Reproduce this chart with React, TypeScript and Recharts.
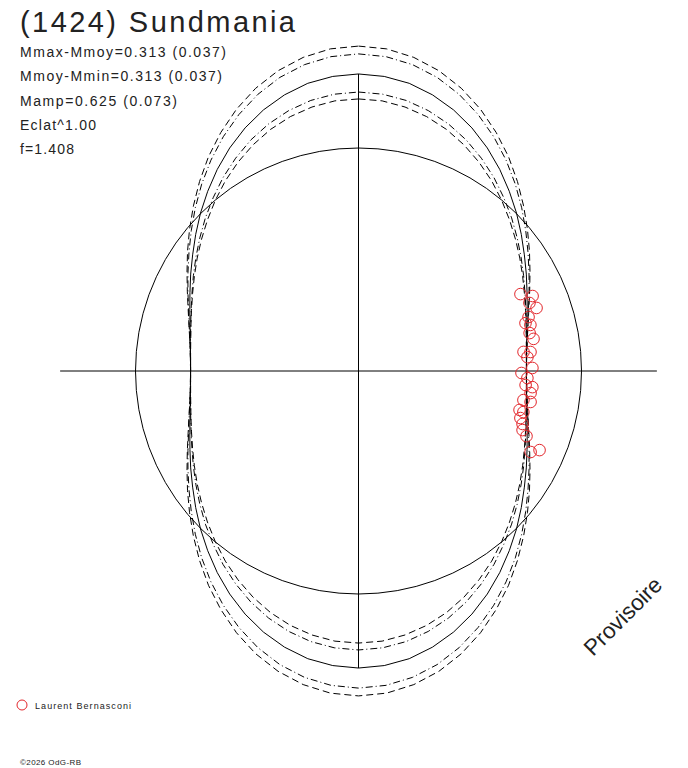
import React from "react";
import { ScatterChart, Scatter, XAxis, YAxis, ReferenceLine } from "recharts";

// rotation phase measured clockwise from the top, one quarter turn
// (the model curves are symmetric, the other quarters are mirrored)
const quarterPhase = [0, 5, 10, 15, 20, 25, 30, 35, 40, 45, 50, 55, 60, 65, 70, 75, 80, 85, 90];

// relative flux (mean = 1)
const fitRadius = [1.332, 1.326, 1.31, 1.282, 1.246, 1.203, 1.155, 1.104, 1.052, 1.002, 0.953, 0.908, 0.869, 0.834, 0.805, 0.782, 0.766, 0.756, 0.753];
const outerDashRadius = [1.457, 1.45, 1.428, 1.394, 1.349, 1.295, 1.235, 1.173, 1.109, 1.047, 0.989, 0.936, 0.888, 0.847, 0.813, 0.787, 0.768, 0.757, 0.753];
const outerDotRadius = [1.422, 1.415, 1.395, 1.363, 1.32, 1.269, 1.213, 1.154, 1.094, 1.035, 0.979, 0.928, 0.883, 0.844, 0.811, 0.786, 0.768, 0.757, 0.753];
const innerDotRadius = [1.251, 1.246, 1.232, 1.209, 1.179, 1.143, 1.102, 1.059, 1.014, 0.971, 0.929, 0.89, 0.855, 0.824, 0.799, 0.779, 0.765, 0.756, 0.753];
const innerDashRadius = [1.22, 1.216, 1.202, 1.181, 1.153, 1.119, 1.081, 1.041, 0.999, 0.958, 0.919, 0.883, 0.85, 0.821, 0.797, 0.778, 0.764, 0.756, 0.753];
const meanRadius = 1;

// observations (Laurent Bernasconi)
const obsPhase = [64.6, 66.7, 68.3, 70.5, 72.4, 74.0, 75.0, 77.5, 79.6, 83.4, 83.7, 85.3, 89.0, 90.7, 92.4, 94.8, 95.3, 97.3, 100.0, 100.2, 103.6, 104.0, 106.2, 107.9, 109.8, 111.2, 115.2, 113.6];
const obsRadius = [0.804, 0.85, 0.825, 0.847, 0.8, 0.779, 0.798, 0.786, 0.798, 0.745, 0.776, 0.76, 0.78, 0.731, 0.758, 0.752, 0.783, 0.778, 0.751, 0.784, 0.743, 0.762, 0.756, 0.773, 0.782, 0.808, 0.853, 0.886];

const infoLines = ["Mmax-Mmoy=0.313 (0.037)", "Mmoy-Mmin=0.313 (0.037)", "Mamp=0.625 (0.073)", "Eclat^1.00", "f=1.408"];
const infoWidths = [206, 202, 157, 76, 54];

const axisReachX = 1.338;
const axisReachY = 1.332;

const W = 688;
const H = 768;
const unit = 223; // px per flux unit
const cx = 358.5;
const cy = 371;

const halfPhase = [...quarterPhase, ...quarterPhase.slice(0, -1).reverse().map((p) => 180 - p)];
const fullPhase = [...halfPhase, ...halfPhase.slice(1).map((p) => p + 180)];
const fullRadius = (q: number[]) => {
  const h = [...q, ...q.slice(0, -1).reverse()];
  return [...h, ...h.slice(1)];
};

const toXY = (phase: number, r: number) => {
  const a = (phase * Math.PI) / 180;
  return { x: r * Math.sin(a), y: r * Math.cos(a) };
};
const curve = (q: number[]) => {
  const rs = fullRadius(q);
  return fullPhase.map((p, i) => toXY(p, rs[i]));
};

const meanCircle = fullPhase.map((p) => toXY(p, meanRadius));
const fitCurve = curve(fitRadius);
const outerDash = curve(outerDashRadius);
const outerDot = curve(outerDotRadius);
const innerDot = curve(innerDotRadius);
const innerDash = curve(innerDashRadius);
const observations = obsPhase.map((p, i) => toXY(p, obsRadius[i]));

const noDot = () => <g />;
const ObsMark = (props: any) => (
  <circle cx={props.cx} cy={props.cy} r={5.8} fill="none" stroke="#e3262b" strokeWidth={1} />
);

const font = "'Liberation Sans', Arial, sans-serif";
const DASH = "7 4";
const DASHDOT = "7 3 1 3";

export default function App() {
  return (
    <div style={{ position: "absolute", left: 0, top: 0, width: W, height: H, background: "#fff" }}>
      <ScatterChart width={W} height={H} margin={{ top: 0, right: 0, bottom: 0, left: 0 }}>
        <XAxis type="number" dataKey="x" hide allowDataOverflow domain={[-cx / unit, (W - cx) / unit]} />
        <YAxis type="number" dataKey="y" hide allowDataOverflow domain={[-(H - cy) / unit, cy / unit]} />
        <Scatter data={meanCircle} shape={noDot} line={{ stroke: "#000", strokeWidth: 1 }} fill="#000" legendType="none" isAnimationActive={false} />
        <ReferenceLine segment={[{ x: -axisReachX, y: 0 }, { x: axisReachX, y: 0 }]} stroke="#000" strokeWidth={1} />
        <ReferenceLine segment={[{ x: 0, y: -axisReachY }, { x: 0, y: axisReachY }]} stroke="#000" strokeWidth={1} />
        <Scatter data={outerDash} shape={noDot} line={{ stroke: "#000", strokeWidth: 1, strokeDasharray: DASH }} fill="#000" isAnimationActive={false} />
        <Scatter data={outerDot} shape={noDot} line={{ stroke: "#000", strokeWidth: 1, strokeDasharray: DASHDOT }} fill="#000" isAnimationActive={false} />
        <Scatter data={innerDot} shape={noDot} line={{ stroke: "#000", strokeWidth: 1, strokeDasharray: DASHDOT }} fill="#000" isAnimationActive={false} />
        <Scatter data={innerDash} shape={noDot} line={{ stroke: "#000", strokeWidth: 1, strokeDasharray: DASH }} fill="#000" isAnimationActive={false} />
        <Scatter data={fitCurve} shape={noDot} line={{ stroke: "#000", strokeWidth: 1 }} fill="#000" isAnimationActive={false} />
        <Scatter name="Laurent Bernasconi" data={observations} shape={ObsMark} fill="#e3262b" isAnimationActive={false} />
      </ScatterChart>
      <svg width={W} height={H} style={{ position: "absolute", left: 0, top: 0, pointerEvents: "none" }} fontFamily={font} fill="#222">
        <text x={20} y={32} fontSize={29} textLength={275} lengthAdjust="spacing">(1424) Sundmania</text>
        {infoLines.map((t, i) => (
          <text key={t} x={20} y={57 + i * 24.3} fontSize={14} textLength={infoWidths[i]} lengthAdjust="spacing">
            {t}
          </text>
        ))}
        <text x={593} y={657} fontSize={22.5} textLength={100} lengthAdjust="spacing" transform="rotate(-45 593 657)">
          Provisoire
        </text>
        <circle cx={22} cy={705} r={5} fill="none" stroke="#e3262b" strokeWidth={1} />
        <text x={35} y={708.5} fontSize={9} textLength={96} lengthAdjust="spacing">Laurent Bernasconi</text>
        <text x={20} y={765} fontSize={8} textLength={61} lengthAdjust="spacing">©2026 OdG-RB</text>
      </svg>
    </div>
  );
}
